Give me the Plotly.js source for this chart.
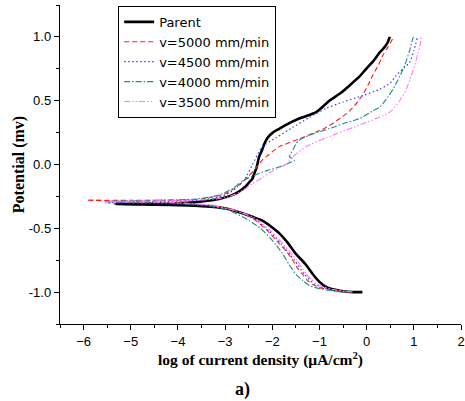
<!DOCTYPE html>
<html>
<head>
<meta charset="utf-8">
<script src="https://cdn.plot.ly/plotly-3.0.1.min.js"></script>
<style>html,body{margin:0;padding:0;background:#fff;}#chart{width:465px;height:401px;}</style>
</head>
<body>
<div id="chart"></div>
<script>
// Series names
const seriesNames = ["Parent", "v=5000 mm/min", "v=4500 mm/min", "v=4000 mm/min", "v=3500 mm/min"];

// Parent (black)
const parentX = [-0.09, -0.3, -0.57, -0.86, -1.0, -1.14, -1.3, -1.5, -1.68, -1.85, -2.05, -2.21, -2.42, -2.65, -2.91, -3.3, -3.8, -4.5, -5.33, -4.5, -3.8, -3.5, -3.13, -2.85, -2.70, -2.56, -2.49, -2.42, -2.38, -2.33, -2.28, -2.22, -2.17, -2.1, -1.99, -1.85, -1.71, -1.43, -1.07, -0.79, -0.55, -0.36, -0.15, -0.01, 0.14, 0.28, 0.38, 0.45, 0.49];
const parentY = [-1.0, -1.0, -0.99, -0.96, -0.92, -0.86, -0.78, -0.70, -0.61, -0.54, -0.48, -0.44, -0.41, -0.38, -0.35, -0.33, -0.32, -0.315, -0.31, -0.305, -0.30, -0.29, -0.27, -0.24, -0.21, -0.17, -0.14, -0.11, -0.07, -0.02, 0.06, 0.11, 0.16, 0.21, 0.25, 0.28, 0.31, 0.36, 0.41, 0.50, 0.56, 0.62, 0.69, 0.75, 0.81, 0.88, 0.92, 0.96, 1.0];

// v=5000 mm/min (red dash)
const v5000X = [-0.4, -0.79, -1.0, -1.14, -1.25, -1.36, -1.47, -1.57, -1.7, -1.85, -2.1, -2.42, -2.8, -3.3, -4.0, -5.0, -5.93, -5.0, -4.0, -3.5, -3.0, -2.70, -2.5, -2.35, -2.2, -2.13, -2.0, -1.85, -1.43, -0.86, -0.57, -0.36, -0.15, 0.0, 0.13, 0.25, 0.35, 0.45, 0.56];
const v5000Y = [-1.0, -0.98, -0.965, -0.94, -0.91, -0.86, -0.81, -0.75, -0.68, -0.62, -0.52, -0.42, -0.36, -0.32, -0.30, -0.29, -0.28, -0.28, -0.28, -0.27, -0.23, -0.16, -0.09, -0.03, 0.04, 0.06, 0.10, 0.14, 0.20, 0.29, 0.36, 0.42, 0.51, 0.60, 0.70, 0.78, 0.86, 0.92, 0.99];

// v=4500 mm/min (blue dot)
const v4500X = [-0.35, -0.75, -1.1, -1.32, -1.53, -1.82, -2.07, -2.4, -2.8, -3.3, -4.0, -5.54, -4.5, -3.5, -3.0, -2.75, -2.56, -2.42, -2.21, -1.92, -1.57, -1.21, -0.86, -0.5, -0.08, 0.28, 0.5, 0.63, 0.8, 0.91, 1.0, 1.07];
const v4500Y = [-1.0, -0.98, -0.94, -0.86, -0.75, -0.62, -0.52, -0.42, -0.36, -0.33, -0.31, -0.30, -0.29, -0.28, -0.24, -0.18, -0.10, 0.0, 0.14, 0.21, 0.29, 0.37, 0.44, 0.49, 0.54, 0.59, 0.64, 0.70, 0.76, 0.80, 0.89, 0.99];

// v=4000 mm/min (teal dash-dot)
const v4000X = [-0.5, -0.93, -1.21, -1.35, -1.5, -1.65, -1.78, -1.92, -2.06, -2.25, -2.49, -2.91, -3.4, -4.2, -5.54, -4.5, -3.6, -3.13, -2.85, -2.63, -2.35, -2.13, -1.78, -1.6, -1.53, -1.58, -1.64, -1.6, -1.57, -1.5, -1.43, -1.14, -0.72, -0.5, -0.15, 0.13, 0.28, 0.45, 0.56, 0.7, 0.81, 0.9, 0.95, 0.99];
const v4000Y = [-1.0, -0.98, -0.95, -0.91, -0.86, -0.78, -0.70, -0.63, -0.57, -0.50, -0.44, -0.36, -0.32, -0.30, -0.29, -0.28, -0.27, -0.24, -0.19, -0.13, -0.08, -0.05, -0.01, 0.02, 0.03, 0.05, 0.06, 0.09, 0.11, 0.16, 0.19, 0.24, 0.29, 0.32, 0.36, 0.42, 0.45, 0.53, 0.59, 0.69, 0.78, 0.88, 0.95, 1.0];

// v=3500 mm/min (magenta dash-dot-dot)
const v3500X = [-0.3, -0.7, -1.05, -1.28, -1.48, -1.78, -2.03, -2.37, -2.8, -3.3, -4.0, -5.54, -4.5, -3.6, -3.0, -2.7, -2.42, -2.2, -1.99, -1.71, -1.57, -1.28, -0.86, -0.29, -0.08, 0.2, 0.49, 0.7, 0.84, 0.95, 1.02, 1.08, 1.13, 1.16];
const v3500Y = [-1.0, -0.98, -0.94, -0.86, -0.75, -0.62, -0.52, -0.42, -0.36, -0.32, -0.30, -0.29, -0.285, -0.28, -0.26, -0.22, -0.15, -0.10, -0.05, 0.0, 0.06, 0.14, 0.21, 0.29, 0.32, 0.36, 0.41, 0.50, 0.59, 0.70, 0.78, 0.86, 0.93, 1.0];

// Tick labels
const xTickVals = [-6, -5, -4, -3, -2, -1, 0, 1, 2];
const yTickVals = [-1.0, -0.5, 0.0, 0.5, 1.0];
const yTickText = ["-1.0", "-0.5", "0.0", "0.5", "1.0"];

const xs = [parentX, v5000X, v4500X, v4000X, v3500X];
const ys = [parentY, v5000Y, v4500Y, v4000Y, v3500Y];
const styles = [
  {color: "#000000", width: 2.6, dash: "solid"},
  {color: "#ff1a1a", width: 1.1, dash: "5px,3px"},
  {color: "#3a3aff", width: 1.2, dash: "1.5px,2.5px"},
  {color: "#1a8c8c", width: 1.1, dash: "6px,2px,1.5px,2px"},
  {color: "#ff77ff", width: 1.1, dash: "6px,2px,1.5px,2px,1.5px,2px"}
];

const traces = seriesNames.map((n, i) => ({
  x: xs[i], y: ys[i], name: n, type: "scatter", mode: "lines",
  line: {color: styles[i].color, width: styles[i].width, dash: styles[i].dash, shape: "spline", smoothing: 0.6}
}));

const sans = "Liberation Sans, Arial, sans-serif";
const serif = "Liberation Serif, Times New Roman, serif";

const layout = {
  width: 465, height: 401,
  margin: {l: 60, r: 4, t: 5, b: 77},
  paper_bgcolor: "#fff", plot_bgcolor: "#fff",
  showlegend: true,
  legend: {
    x: 0.145, y: 0.997, xanchor: "left", yanchor: "top",
    bordercolor: "#000", borderwidth: 1, bgcolor: "#fff",
    font: {family: "DejaVu Sans, Liberation Sans, sans-serif", size: 13, color: "#000"},
    tracegroupgap: 0, itemwidth: 30
  },
  xaxis: {
    range: [-6.5, 2], tickvals: xTickVals, ticks: "outside", ticklen: 5, tickwidth: 1,
    tickcolor: "#000", showline: true, linecolor: "#000", linewidth: 1.2,
    showgrid: false, zeroline: false, mirror: false,
    tickfont: {family: sans, size: 13, color: "#000"},
    minor: {dtick: 0.5, ticks: "outside", ticklen: 3, tickcolor: "#000", showgrid: false},
    title: {text: "log of current density (μA/cm<sup>2</sup>)", font: {family: serif, size: 15.5, color: "#000", weight: "bold"}, standoff: 0}
  },
  yaxis: {
    range: [-1.25, 1.25], tickvals: yTickVals, ticktext: yTickText, ticks: "outside", ticklen: 5, tickwidth: 1,
    tickcolor: "#000", showline: true, linecolor: "#000", linewidth: 1.2,
    showgrid: false, zeroline: false, mirror: false,
    tickfont: {family: sans, size: 13, color: "#000"},
    minor: {dtick: 0.25, ticks: "outside", ticklen: 3, tickcolor: "#000", showgrid: false},
    title: {text: "Potential (mv)", font: {family: serif, size: 16, color: "#000", weight: "bold"}, standoff: 0}
  },
  annotations: [{
    text: "a)", xref: "paper", yref: "paper", x: 0.456, y: -0.205, xanchor: "center", yanchor: "middle",
    showarrow: false, font: {family: serif, size: 18, color: "#000", weight: "bold"}
  }]
};

Plotly.newPlot("chart", traces, layout, {displayModeBar: false, staticPlot: true});
</script>
</body>
</html>
